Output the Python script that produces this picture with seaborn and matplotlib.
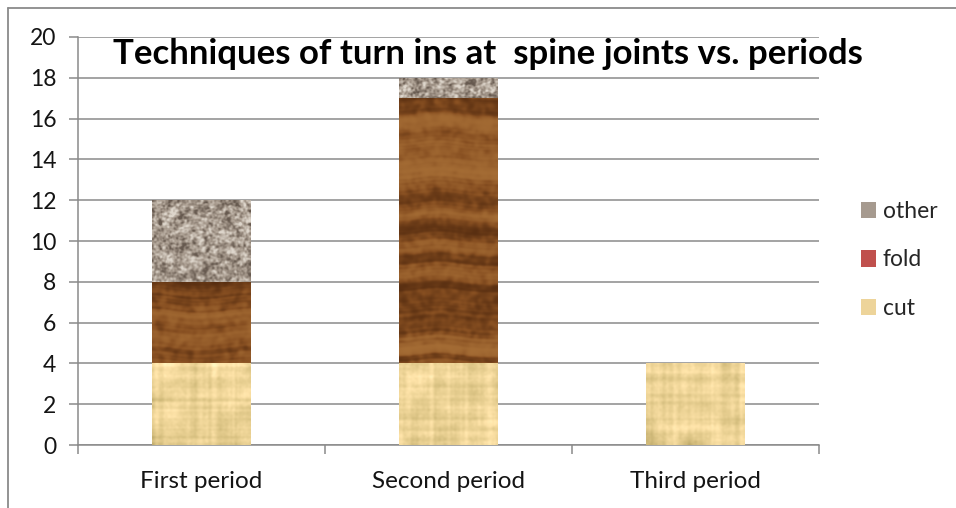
import numpy as np
import pandas as pd
import matplotlib
matplotlib.use("Agg")
import matplotlib.pyplot as plt
from matplotlib.patches import Patch
from matplotlib.lines import Line2D
import seaborn as sns

# Counts of turn-in techniques at spine joints, per period
periods = ["First period", "Second period", "Third period"]
cut = [4, 4, 4]
fold = [4, 13, 0]
other = [4, 1, 0]
y_ticks = list(range(0, 21, 2))
title = "Techniques of turn ins at  spine joints vs. periods"

sns.set_theme(style="white")
plt.rcParams["font.family"] = ["Lato", "DejaVu Sans"]

GRID = "#8a8a8a"
LABEL_SIZE = 16.5


# ---------- procedural material textures for the bar fills ----------
def _gauss_kernel(s):
    r = max(1, int(3 * s))
    x = np.arange(-r, r + 1)
    k = np.exp(-0.5 * (x / s) ** 2)
    return k / k.sum(), r


def blur1d(v, s):
    k, r = _gauss_kernel(s)
    vp = np.pad(v, r, mode="reflect")
    return np.convolve(vp, k, mode="valid")


def blur2d(a, s):
    k, r = _gauss_kernel(s)
    ap = np.pad(a, r, mode="reflect")
    ap = np.apply_along_axis(lambda m: np.convolve(m, k, mode="valid"), 0, ap)
    ap = np.apply_along_axis(lambda m: np.convolve(m, k, mode="valid"), 1, ap)
    return ap


def _norm(a):
    a = a - a.mean()
    sd = a.std()
    return a / sd if sd > 0 else a


def papyrus(h, w, rng):
    base = np.array([0.93, 0.83, 0.59])
    rows = _norm(blur1d(rng.normal(size=h), 1.2))
    cols = _norm(blur1d(rng.normal(size=w), 1.2))
    blot = _norm(blur2d(rng.normal(size=(h, w)), 6))
    fine = _norm(blur2d(rng.normal(size=(h, w)), 1.0))
    shade = 0.022 * rows[:, None] + 0.022 * cols[None, :] + 0.028 * blot + 0.01 * fine
    img = base[None, None, :] * (1 + shade[..., None])
    img[..., 2] *= 1 + 0.6 * shade
    return np.clip(img, 0, 1)


def wood(h, w, rng):
    pad = 30
    g = (0.35 * _norm(blur1d(rng.normal(size=h + 2 * pad), 0.9))
         + 1.0 * _norm(blur1d(rng.normal(size=h + 2 * pad), 3.5))
         + 0.7 * _norm(blur1d(rng.normal(size=h + 2 * pad), 10.0)))
    g = _norm(g)
    wave = 1.5 * _norm(blur1d(rng.normal(size=w), 20.0))
    ys = np.arange(h)[:, None] + pad + wave[None, :]
    t = np.interp(ys, np.arange(h + 2 * pad), g)
    t = t + 0.3 * _norm(blur2d(rng.normal(size=(h, w)), 2.0))
    t = 1 / (1 + np.exp(-1.2 * (t + 0.3)))
    dark = np.array([0.33, 0.17, 0.06])
    mid = np.array([0.53, 0.31, 0.13])
    light = np.array([0.65, 0.43, 0.21])
    t3 = t[..., None]
    img = np.where(t3 < 0.5,
                   dark + (mid - dark) * (t3 / 0.5),
                   mid + (light - mid) * ((t3 - 0.5) / 0.5))
    return np.clip(img, 0, 1)


def granite(h, w, rng):
    n = 0.65 * _norm(blur2d(rng.normal(size=(h, w)), 0.9)) + 0.35 * _norm(blur2d(rng.normal(size=(h, w)), 2.5))
    n = _norm(n)
    dark = np.array([0.40, 0.35, 0.31])
    mid = np.array([0.66, 0.61, 0.56])
    light = np.array([0.87, 0.84, 0.80])
    t = np.clip((n + 2.2) / 4.4, 0, 1)[..., None]
    img = np.where(t < 0.5,
                   dark + (mid - dark) * (t / 0.5),
                   mid + (light - mid) * ((t - 0.5) / 0.5))
    return np.clip(img, 0, 1)


# ---------- figure ----------
fig = plt.figure(figsize=(9.56, 5.08), dpi=100)
ax = fig.add_axes([78 / 956, 1 - 445 / 508, (819 - 78) / 956, (445 - 37) / 508])

df = pd.DataFrame({"period": periods, "cut": cut, "fold": fold, "other": other})
df["cum_fold"] = df["cut"] + df["fold"]
df["cum_other"] = df["cum_fold"] + df["other"]

layers = [
    ("other", "cum_other", "#a69a8f", granite, 2),
    ("fold", "cum_fold", "#7f4f26", wood, 3),
    ("cut", "cut", "#edd49a", papyrus, 4),
]

rng = np.random.default_rng(7)

layer_patches = {}
for name, col, face, tex, z in layers:
    before = len(ax.patches)
    sns.barplot(data=df, x="period", y=col, color=face, width=0.4,
                saturation=1, linewidth=0, ax=ax, zorder=z, order=periods)
    layer_patches[name] = ax.patches[before:]

ax.set_xlim(-0.5, 2.5)
ax.set_ylim(0, 20)
fig.canvas.draw()

for name, col, face, tex, z in layers:
    for p in layer_patches[name]:
        top = p.get_height()
        if top <= 0:
            continue
        x0, w = p.get_x(), p.get_width()
        (px0, py0), (px1, py1) = ax.transData.transform([(x0, 0), (x0 + w, top)])
        hp, wp = max(2, int(abs(py1 - py0))), max(2, int(abs(px1 - px0)))
        img = tex(hp, wp, rng)
        im = ax.imshow(img, extent=(x0, x0 + w, 0, top), origin="upper",
                       interpolation="bilinear", aspect="auto", zorder=z + 0.1)
        im.set_clip_path(p)

ax.set_xlim(-0.5, 2.5)
ax.set_ylim(0, 20)
ax.set_aspect("auto")

# axes, grid and ticks
ax.set_yticks(y_ticks)
ax.yaxis.grid(True, color=GRID, linewidth=1.1)
ax.set_axisbelow(True)
for s in ["top", "right"]:
    ax.spines[s].set_visible(False)
for s in ["left", "bottom"]:
    ax.spines[s].set_color(GRID)
    ax.spines[s].set_linewidth(1.1)
ax.set_xlabel("")
ax.set_ylabel("")
ax.tick_params(axis="y", which="major", direction="out", length=6.5, width=1.1,
               color=GRID, pad=9, labelsize=LABEL_SIZE, labelcolor="#141414", left=True)
ax.set_xticks([0, 1, 2])
ax.set_xticklabels(periods)
ax.set_xticks([-0.5, 0.5, 1.5, 2.5], minor=True)
ax.tick_params(axis="x", which="major", length=0, pad=19, labelsize=17.5,
               labelcolor="#141414")
ax.tick_params(axis="x", which="minor", direction="out", length=6.5, width=1.1,
               color=GRID, bottom=True)

fig.text(487.5 / 956, 1 - 64 / 508, title, ha="center", va="baseline",
         fontsize=25, fontweight="bold", color="black")

handles = [Patch(facecolor="#a69a8f", edgecolor="none", label="other"),
           Patch(facecolor="#c0504d", edgecolor="none", label="fold"),
           Patch(facecolor="#edd49a", edgecolor="none", label="cut")]
leg = fig.legend(handles=handles, loc="center left", bbox_to_anchor=(861 / 956, 1 - 260 / 508),
                 frameon=False, fontsize=LABEL_SIZE, handlelength=0.65, handleheight=0.7,
                 handletextpad=0.3, labelspacing=1.2, borderpad=0, borderaxespad=0)

# granite swatch inside the "other" legend key
fig.canvas.draw()
bb = leg.legend_handles[0].get_window_extent().transformed(fig.transFigure.inverted())
kax = fig.add_axes([bb.x0, bb.y0, bb.width, bb.height])
kax.imshow(granite(16, 16, rng), interpolation="bilinear", aspect="auto")
kax.set_axis_off()

# outer chart frame
fig.add_artist(Line2D([8 / 956, 8 / 956], [0, 1 - 8 / 508], transform=fig.transFigure,
                      color="#8a8a8a", linewidth=1.3))
fig.add_artist(Line2D([8 / 956, 1], [1 - 8 / 508, 1 - 8 / 508], transform=fig.transFigure,
                      color="#8a8a8a", linewidth=1.3))

fig.savefig("out.png", dpi=100, facecolor="white")
